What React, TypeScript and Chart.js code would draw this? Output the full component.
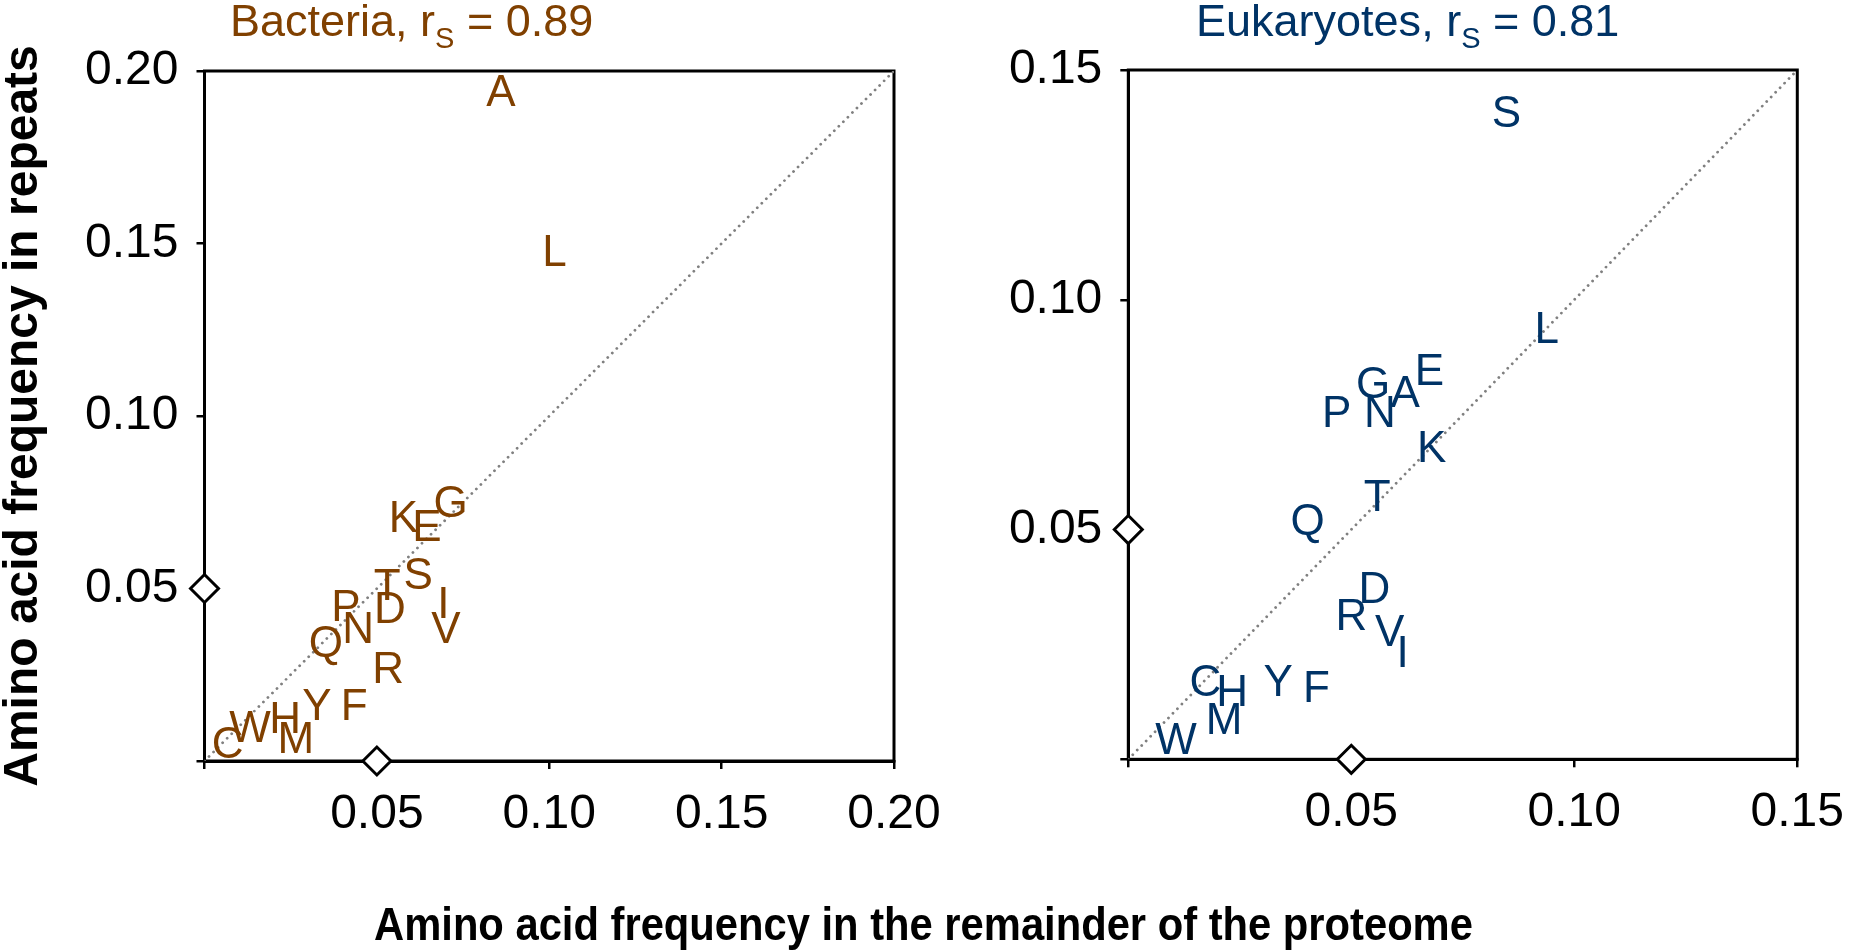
import { useEffect, useRef } from 'react';
import { Chart } from 'chart.js/auto';

const FONT = "'Liberation Sans', Arial, Helvetica, sans-serif";
const BROWN = 'rgb(128, 64, 0)';
const BLUE = 'rgb(0, 51, 102)';
const PAGE_W = 1861;
const PAGE_H = 951;

// Bacteria: frequency in the rest of the proteome (x) vs. in repeats (y)
const bacteriaLetters = ['A', 'L', 'G', 'K', 'E', 'S', 'T', 'I', 'P', 'D', 'N', 'V', 'Q', 'R', 'Y', 'F', 'H', 'W', 'M', 'C'];
const bacteriaRemainder = [0.086, 0.1015, 0.0714, 0.0577, 0.0645, 0.062, 0.053, 0.0693, 0.041, 0.0538, 0.0446, 0.07, 0.0352, 0.0533, 0.0326, 0.0434, 0.0234, 0.0132, 0.0265, 0.0067];
const bacteriaRepeats = [0.1943, 0.1479, 0.0752, 0.0708, 0.0684, 0.0544, 0.0513, 0.0459, 0.0452, 0.0447, 0.0389, 0.0389, 0.0346, 0.0272, 0.0164, 0.0164, 0.0128, 0.0102, 0.0068, 0.0053];

// Eukaryotes
const eukaryoteLetters = ['S', 'L', 'E', 'G', 'A', 'P', 'N', 'K', 'T', 'Q', 'D', 'R', 'V', 'I', 'C', 'H', 'Y', 'F', 'M', 'W'];
const eukaryoteRemainder = [0.0848, 0.0938, 0.0675, 0.0549, 0.0621, 0.0467, 0.0564, 0.068, 0.0558, 0.0402, 0.0552, 0.05, 0.0586, 0.0615, 0.0173, 0.0233, 0.0336, 0.0422, 0.0215, 0.0107];
const eukaryoteRepeats = [0.141, 0.094, 0.0849, 0.082, 0.0802, 0.0758, 0.0758, 0.0682, 0.0574, 0.0523, 0.0375, 0.0315, 0.0281, 0.0235, 0.0172, 0.015, 0.0172, 0.0159, 0.0089, 0.0046];

const bacteriaAxisMax = 0.2;
const eukaryoteAxisMax = 0.15;
const tickStep = 0.05;
// 1/20, the frequency if all amino acids were equally common
const uniformFrequency = 0.05;

const letterPlugin = {
  id: 'letterLabels',
  afterDatasetsDraw(chart: any) {
    const ctx = chart.ctx;
    chart.data.datasets.forEach((ds: any, i: number) => {
      if (!ds.letters) return;
      const meta = chart.getDatasetMeta(i);
      const size = 44;
      ctx.save();
      ctx.font = `${size}px ${FONT}`;
      ctx.fillStyle = ds.letterColor;
      ctx.textAlign = 'center';
      ctx.textBaseline = 'alphabetic';
      meta.data.forEach((pt: any, j: number) => {
        // put the middle of the capital letter on the point
        ctx.fillText(ds.letters[j], pt.x, pt.y + size * 0.358);
      });
      ctx.restore();
    });
  },
};

const framePlugin = {
  id: 'frame',
  beforeDatasetsDraw(chart: any) {
    const { ctx, chartArea: a } = chart;
    ctx.save();
    ctx.strokeStyle = '#000';
    ctx.lineWidth = 3;
    ctx.strokeRect(a.left, a.top, a.right - a.left, a.bottom - a.top);
    ctx.restore();
  },
};

type PanelProps = {
  canvasLeft: number;
  canvasWidth: number;
  area: { left: number; top: number; right: number; bottom: number };
  letters: string[];
  remainder: number[];
  repeats: number[];
  axisMax: number;
  color: string;
  yTitle?: string;
};

function Panel(props: PanelProps) {
  const canvasRef = useRef<HTMLCanvasElement | null>(null);

  useEffect(() => {
    const { area, canvasWidth, letters, remainder, repeats, axisMax, color, yTitle } = props;
    const ctx = canvasRef.current!.getContext('2d')!;
    const xAxisHeight = 100;

    const tickLabel = (v: any) => (Number(v) === 0 ? '' : Number(v).toFixed(2));
    const axisCommon = {
      type: 'linear' as const,
      min: 0,
      max: axisMax,
      grid: { display: true, drawOnChartArea: false, drawTicks: true, tickLength: 8, color: '#000', lineWidth: 2.5 },
      border: { display: true, color: '#000', width: 3 },
      ticks: {
        stepSize: tickStep,
        color: '#000',
        font: { size: 48, family: FONT },
        maxRotation: 0,
        minRotation: 0,
        callback: tickLabel,
      },
    };

    const chart = new Chart(ctx, {
      type: 'scatter',
      data: {
        datasets: [
          {
            label: 'uniform',
            data: [
              { x: 0, y: uniformFrequency },
              { x: uniformFrequency, y: 0 },
            ],
            pointStyle: 'rectRot',
            pointRadius: 14,
            pointBackgroundColor: '#fff',
            pointBorderColor: '#000',
            pointBorderWidth: 3,
            clip: false,
          } as any,
          {
            label: 'amino acids',
            data: remainder.map((x, i) => ({ x, y: repeats[i] })),
            pointRadius: 0,
            letters,
            letterColor: color,
          } as any,
          {
            label: 'y = x',
            data: [
              { x: 0, y: 0 },
              { x: axisMax, y: axisMax },
            ],
            showLine: true,
            pointRadius: 0,
            borderColor: '#808080',
            borderWidth: 2.8,
            borderDash: [0.01, 6.4],
            borderCapStyle: 'round',
          } as any,
        ],
      },
      options: {
        animation: false,
        responsive: false,
        events: [],
        layout: {
          padding: {
            left: 0,
            top: area.top,
            right: canvasWidth - area.right,
            bottom: PAGE_H - area.bottom - xAxisHeight,
          },
        },
        plugins: {
          legend: { display: false },
          tooltip: { enabled: false },
        },
        scales: {
          x: {
            ...axisCommon,
            position: 'bottom',
            ticks: { ...axisCommon.ticks, padding: 17 },
            afterFit: (s: any) => {
              s.height = xAxisHeight;
            },
          },
          y: {
            ...axisCommon,
            position: 'left',
            ticks: { ...axisCommon.ticks, padding: 18 },
            title: {
              display: !!yTitle,
              text: yTitle || '',
              color: '#000',
              font: { size: 48, weight: 'bold', family: FONT, lineHeight: 1 },
              padding: { top: 0, bottom: 0 },
            },
            afterFit: (s: any) => {
              s.width = area.left;
            },
          },
        },
      } as any,
      plugins: [framePlugin, letterPlugin],
    });

    return () => chart.destroy();
  }, []);

  return (
    <canvas
      ref={canvasRef}
      width={props.canvasWidth}
      height={PAGE_H}
      style={{ position: 'absolute', left: props.canvasLeft, top: 0, width: props.canvasWidth, height: PAGE_H }}
    />
  );
}

function PanelTitle({ left, color, name, value }: { left: number; color: string; name: string; value: string }) {
  return (
    <div
      style={{
        position: 'absolute',
        left,
        top: -2,
        color,
        fontFamily: FONT,
        fontSize: 45,
        lineHeight: 1,
        whiteSpace: 'nowrap',
      }}
    >
      {name}, r
      <span style={{ fontSize: 29, position: 'relative', top: 12 }}>S</span> = {value}
    </div>
  );
}

export default function App() {
  return (
    <div
      style={{
        position: 'absolute',
        left: 0,
        top: 0,
        width: PAGE_W,
        height: PAGE_H,
        overflow: 'hidden',
        background: '#fff',
      }}
    >
      <Panel
        canvasLeft={0}
        canvasWidth={1000}
        area={{ left: 204.5, top: 71, right: 894, bottom: 761 }}
        letters={bacteriaLetters}
        remainder={bacteriaRemainder}
        repeats={bacteriaRepeats}
        axisMax={bacteriaAxisMax}
        color={BROWN}
        yTitle="Amino acid frequency in repeats"
      />
      <Panel
        canvasLeft={900}
        canvasWidth={961}
        area={{ left: 228.3, top: 70, right: 918.3, bottom: 759.3 }}
        letters={eukaryoteLetters}
        remainder={eukaryoteRemainder}
        repeats={eukaryoteRepeats}
        axisMax={eukaryoteAxisMax}
        color={BLUE}
      />
      <PanelTitle left={230} color={BROWN} name="Bacteria" value="0.89" />
      <PanelTitle left={1196} color={BLUE} name="Eukaryotes" value="0.81" />
      <div
        style={{
          position: 'absolute',
          left: 0,
          top: 901,
          width: 1847,
          textAlign: 'center',
          fontFamily: FONT,
          fontSize: 46,
          fontWeight: 'bold',
          lineHeight: 1,
          color: '#000',
          whiteSpace: 'nowrap',
          transform: 'scaleX(0.907)',
          transformOrigin: '923.5px 50%',
        }}
      >
        Amino acid frequency in the remainder of the proteome
      </div>
    </div>
  );
}
